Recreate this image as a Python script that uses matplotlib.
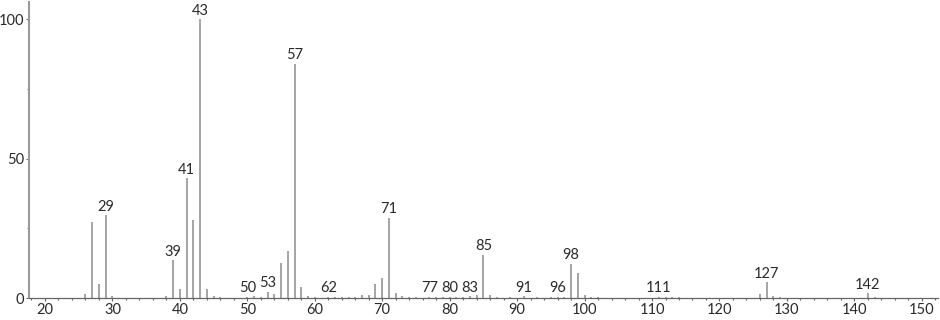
import matplotlib
matplotlib.use("Agg")
import matplotlib.pyplot as plt
from matplotlib.ticker import MultipleLocator, FixedLocator

# m/z values and relative intensities
mz = [26, 27, 28, 29, 30, 38, 39, 40, 41, 42, 43, 44, 45, 46,
      50, 51, 52, 53, 54, 55, 56, 57, 58, 59, 60,
      62, 63, 64, 65, 66, 67, 68, 69, 70, 71, 72, 73, 74, 75,
      77, 78, 79, 80, 81, 82, 83, 84, 85, 86, 87, 89,
      91, 93, 95, 96, 97, 98, 99, 100, 101, 102,
      111, 112, 113, 114, 126, 127, 128, 129, 142, 143]
intensity = [1.4, 27.1, 4.9, 29.7, 0.7, 0.6, 13.6, 3.1, 43.0, 28.0, 100.0, 3.2, 0.6, 0.3,
             0.5, 0.7, 0.4, 2.2, 1.6, 12.4, 16.8, 83.9, 3.8, 0.7, 0.3,
             0.5, 0.5, 0.5, 0.5, 0.5, 0.9, 1.1, 5.0, 7.0, 28.8, 1.7, 0.6, 0.3, 0.3,
             0.5, 0.5, 0.5, 0.5, 0.5, 0.5, 0.6, 1.1, 15.5, 1.0, 0.5, 0.3,
             0.6, 0.4, 0.5, 0.5, 0.5, 12.3, 8.8, 0.9, 0.5, 0.4,
             0.5, 0.5, 0.5, 0.5, 1.4, 5.6, 0.7, 0.5, 1.7, 0.5]
labeled = [29, 39, 41, 43, 50, 53, 57, 62, 71, 77, 80, 83, 85, 91, 96, 98, 111, 127, 142]
x_ticks = [20, 30, 40, 50, 60, 70, 80, 90, 100, 110, 120, 130, 140, 150]
y_ticks = [0, 50, 100]

FONT = ["Lato", "DejaVu Sans"]

fig = plt.figure(figsize=(9.4, 3.2), dpi=100)
ax = fig.add_axes([29/940, 22/320, (938-29)/940, (318-22)/320])

ax.vlines(mz, 0, intensity, colors="#8c8c8c", linewidth=1.1)

lookup = dict(zip(mz, intensity))
for m in labeled:
    ax.annotate(str(m), xy=(m, lookup[m]), xytext=(0, 3.2), textcoords="offset points",
                ha="center", va="baseline", fontsize=10.5, color="#2a2a2a",
                family=FONT)

ax.set_xlim(17.63, 152.4)
ax.set_ylim(0, 106.1)

ax.xaxis.set_major_locator(FixedLocator(x_ticks))
ax.xaxis.set_minor_locator(MultipleLocator(2))
ax.yaxis.set_major_locator(FixedLocator(y_ticks))
ax.yaxis.set_minor_locator(FixedLocator([25, 75]))

for side in ["top", "right"]:
    ax.spines[side].set_visible(False)
ax.spines["bottom"].set_color("#666666")
ax.spines["bottom"].set_linewidth(0.9)
ax.spines["left"].set_color("#9a9a9a")
ax.spines["left"].set_linewidth(1.5)

ax.tick_params(axis="both", which="major", direction="out", length=2.5, width=0.8,
               color="#666666", labelsize=10.5, labelcolor="#2a2a2a", pad=1.0)
ax.tick_params(axis="both", which="minor", direction="out", length=1.5, width=0.8,
               color="#666666")
for lab in ax.get_xticklabels() + ax.get_yticklabels():
    lab.set_family(FONT)

fig.savefig("out.png", dpi=100)
